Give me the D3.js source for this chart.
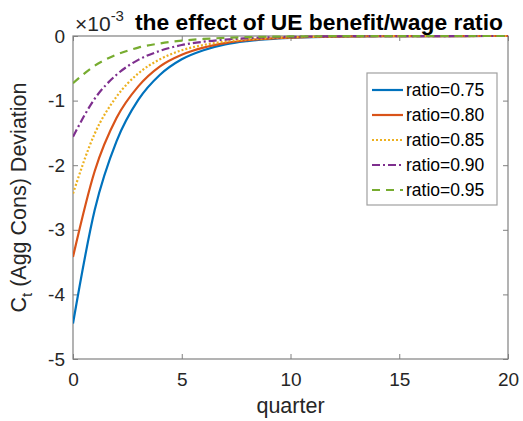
<!DOCTYPE html>
<html>
<head>
<meta charset="utf-8">
<script src="https://cdn.jsdelivr.net/npm/d3@7"></script>
<style>
  body { margin: 0; background: #fff; }
  text { font-family: "Liberation Sans", Arial, sans-serif; }
</style>
</head>
<body>
<svg id="chart" width="523" height="421"></svg>
<script>
// quarters 0..20, deviations in units of 1e-3
const quarters = d3.range(0, 21);
const ratioLabels = ['ratio=0.75', 'ratio=0.80', 'ratio=0.85', 'ratio=0.90', 'ratio=0.95'];
const r075 = [-4.45, -2.69, -1.63, -0.99, -0.60, -0.36, -0.22, -0.13, -0.08, -0.049, -0.030, -0.018, -0.011, -0.0066, -0.004, -0.0024, -0.0015, -0.0009, -0.0005, -0.0003, -0.0002];
const r080 = [-3.42, -2.09, -1.27, -0.78, -0.47, -0.29, -0.18, -0.11, -0.066, -0.04, -0.025, -0.015, -0.009, -0.006, -0.0035, -0.002, -0.0013, -0.0008, -0.0005, -0.0003, -0.0002];
const r085 = [-2.44, -1.51, -0.94, -0.58, -0.36, -0.22, -0.14, -0.086, -0.053, -0.033, -0.020, -0.013, -0.008, -0.005, -0.003, -0.0019, -0.0012, -0.0007, -0.0005, -0.0003, -0.0002];
const r090 = [-1.56, -0.97, -0.60, -0.37, -0.23, -0.14, -0.088, -0.055, -0.034, -0.021, -0.013, -0.008, -0.005, -0.003, -0.002, -0.0012, -0.0008, -0.0005, -0.0003, -0.0002, -0.0001];
const r095 = [-0.73, -0.46, -0.29, -0.18, -0.115, -0.072, -0.046, -0.029, -0.018, -0.011, -0.007, -0.0045, -0.0028, -0.0018, -0.0011, -0.0007, -0.0004, -0.0003, -0.0002, -0.0001, -0.0001];
const xTicks = [0, 5, 10, 15, 20];
const yTicks = [-5, -4, -3, -2, -1, 0];

const series = [r075, r080, r085, r090, r095];
const colors = ['#0072BD', '#D95319', '#EDB120', '#7E2F8E', '#77AC30'];
const dashes = [null, null, '2,2', '8,3,2,3', '8,6'];

const svg = d3.select('#chart');
const m = {left: 73, right: 508, top: 36, bottom: 359};

const x = d3.scaleLinear().domain([0, 20]).range([m.left, m.right]);
const y = d3.scaleLinear().domain([-5, 0]).range([m.bottom, m.top]);

svg.append('clipPath').attr('id', 'clip')
  .append('rect')
  .attr('x', m.left).attr('y', m.top - 2)
  .attr('width', m.right - m.left + 2).attr('height', m.bottom - m.top + 2);

// axes box and ticks
const axisColor = '#808080';
const fmt = d => String(d);
svg.append('g').attr('transform', `translate(0,${m.bottom})`)
  .call(d3.axisBottom(x).tickValues(xTicks).tickSize(-5).tickPadding(14).tickFormat(fmt))
  .call(g => g.select('.domain').remove());
svg.append('g').attr('transform', `translate(0,${m.top})`)
  .call(d3.axisTop(x).tickValues(xTicks).tickSize(-5).tickFormat(''))
  .call(g => g.select('.domain').remove());
svg.append('g').attr('transform', `translate(${m.left},0)`)
  .call(d3.axisLeft(y).tickValues(yTicks).tickSize(-5).tickPadding(8).tickFormat(fmt))
  .call(g => g.select('.domain').remove());
svg.append('g').attr('transform', `translate(${m.right},0)`)
  .call(d3.axisRight(y).tickValues(yTicks).tickSize(-5).tickFormat(''))
  .call(g => g.select('.domain').remove());

svg.selectAll('.tick line').attr('stroke', axisColor);
svg.selectAll('.tick text')
  .style('font-size', '19px').attr('fill', '#262626');

svg.append('rect')
  .attr('x', m.left).attr('y', m.top)
  .attr('width', m.right - m.left).attr('height', m.bottom - m.top)
  .attr('fill', 'none').attr('stroke', axisColor).attr('stroke-width', 1.2);

// lines
const line = d3.line()
  .x((d, i) => x(quarters[i]))
  .y(d => y(d))
  .curve(d3.curveMonotoneX);

svg.append('g').attr('clip-path', 'url(#clip)')
  .selectAll('path')
  .data(series)
  .join('path')
  .attr('d', line)
  .attr('fill', 'none')
  .attr('stroke', (d, i) => colors[i])
  .attr('stroke-width', 2.2)
  .attr('stroke-dasharray', (d, i) => dashes[i]);

// labels
svg.append('text')
  .attr('x', x(10)).attr('y', 413)
  .attr('text-anchor', 'middle')
  .style('font-size', '21.5px').attr('fill', '#262626')
  .text('quarter');

const yl = svg.append('text')
  .attr('transform', `translate(26,${(m.top + m.bottom) / 2}) rotate(-90)`)
  .attr('text-anchor', 'middle')
  .style('font-size', '21.5px').attr('fill', '#262626');
yl.append('tspan').text('C');
yl.append('tspan').attr('dy', 6).style('font-size', '15px').text('t');
yl.append('tspan').attr('dy', -6).text(' (Agg Cons) Deviation');

const ex = svg.append('text')
  .attr('x', 75).attr('y', 31)
  .style('font-size', '21px').attr('fill', '#262626');
ex.append('tspan').text('\u00d710');
ex.append('tspan').attr('dy', -10).style('font-size', '15px').text('-3');

svg.append('text')
  .attr('x', 135).attr('y', 30)
  .attr('textLength', 368).attr('lengthAdjust', 'spacingAndGlyphs')
  .style('font-size', '22.5px').style('font-weight', 'bold').attr('fill', '#000')
  .text('the effect of UE benefit/wage ratio');

// legend
const lg = svg.append('g');
lg.append('rect')
  .attr('x', 367).attr('y', 73).attr('width', 130).attr('height', 132)
  .attr('fill', '#fff').attr('stroke', '#a0a0a0').attr('stroke-width', 1.2);

const rows = lg.selectAll('g.row')
  .data(ratioLabels)
  .join('g')
  .attr('transform', (d, i) => `translate(0,${90 + i * 25})`);
rows.append('line')
  .attr('x1', 372).attr('x2', 403).attr('y1', 0).attr('y2', 0)
  .attr('stroke', (d, i) => colors[i])
  .attr('stroke-width', 2.2)
  .attr('stroke-dasharray', (d, i) => dashes[i]);
rows.append('text')
  .attr('x', 406).attr('y', 6)
  .style('font-size', '17.5px').attr('fill', '#000')
  .text(d => d);
</script>
</body>
</html>
